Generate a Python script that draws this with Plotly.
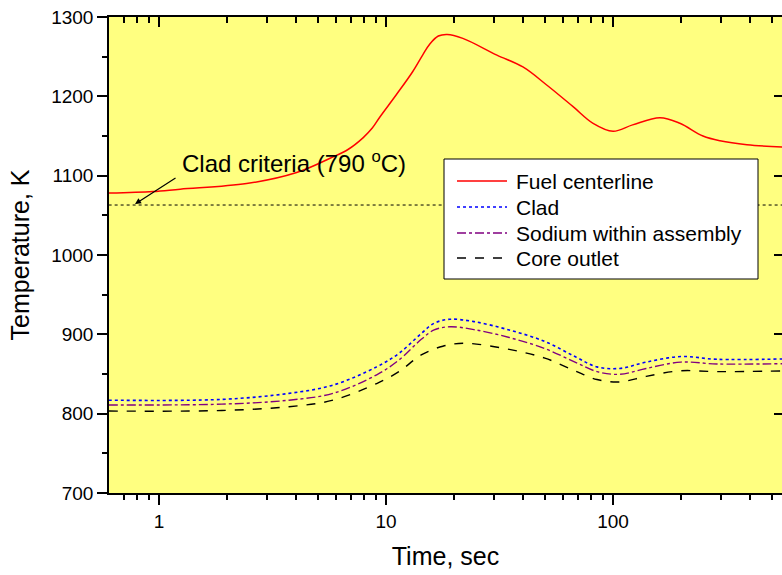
import numpy as np
import plotly.graph_objects as go

# ---- data ----
t_fuel = [0.6, 0.94, 1.24, 2.43, 4.04, 5.67, 6.8, 7.94, 8.7, 9.4, 11.1, 13.1, 14.5, 15.6, 17.0,
          18.6, 21.8, 30.8, 40.1, 51.2, 66.7, 81.7, 100, 122, 161, 197, 249, 296, 389, 560]
fuel = [1078, 1080, 1083, 1090, 1104, 1122, 1133, 1148, 1160, 1174, 1202, 1231, 1252, 1266, 1276,
        1278, 1273, 1252, 1237, 1214, 1187, 1166, 1156, 1164, 1173, 1166, 1150, 1144, 1139, 1136]

t_clad = [0.6, 1.89, 3.74, 5.84, 9.1, 11.4, 14.3, 16.3, 19.1, 24.4, 34.9, 50.1, 68, 85,
          107, 140, 199, 287, 560]
clad = [817, 818, 825.6, 836, 859, 876, 901, 914, 919, 916, 905.5, 891, 872, 859,
        857, 865, 872, 868.5, 869]
sodium = [811, 812, 817, 825.6, 849, 867.6, 893.7, 905.5, 909.6, 906, 896, 882, 865, 853,
          849.6, 857, 865, 862.6, 863]

t_core = [0.6, 1.89, 3.74, 5.84, 9.1, 11.4, 14.3, 17.8, 22.3, 34.9, 50.1, 68, 85, 107,
          140, 197, 287, 560]
core = [803.3, 804, 808.8, 817, 838, 853, 874, 885, 888.7, 881, 870, 854, 843, 840,
        847, 854, 853, 853.8]

t_crit = [0.6, 560]
crit = [1063, 1063]

x_major = [1, 10, 100]
x_major_text = ["1", "10", "100"]
x_minor = [0.7, 0.8, 0.9, 2, 3, 4, 5, 6, 7, 8, 9, 20, 30, 40, 50, 60, 70, 80, 90,
           200, 300, 400, 500]

series_names = ["Fuel centerline", "Clad", "Sodium within assembly", "Core outlet"]
series_colors = ["#FF0000", "#0000FF", "#800080", "#000000"]
series_dash = ["solid", "dot", "dashdot", "dash"]
series_width = [1.5, 1.6, 1.4, 1.4]

FONT = "Liberation Sans, Arial, sans-serif"
xr = [-0.2203, 2.7445]
yr = [700, 1300]

fig = go.Figure()
series_x = [t_fuel, t_clad, t_clad, t_core]
series_y = [fuel, clad, sodium, core]
for xs, ys, nm, c, d, w in zip(series_x, series_y, series_names, series_colors,
                                series_dash, series_width):
    fig.add_trace(go.Scatter(x=xs, y=ys, name=nm, mode="lines", showlegend=False,
                             line=dict(color=c, width=w, dash=d, shape="spline", smoothing=1.0)))

fig.add_trace(go.Scatter(x=t_crit, y=crit, mode="lines", showlegend=False, hoverinfo="skip",
                         xaxis="x2", yaxis="y2",
                         line=dict(color="#000000", width=1, dash="dot")))
# invisible helpers so the minor-tick axes are drawn
fig.add_trace(go.Scatter(x=t_crit, y=crit, mode="lines", showlegend=False, hoverinfo="skip",
                         xaxis="x3", yaxis="y", line=dict(width=0), opacity=0))
fig.add_trace(go.Scatter(x=t_crit, y=crit, mode="lines", showlegend=False, hoverinfo="skip",
                         xaxis="x4", yaxis="y2", line=dict(width=0), opacity=0))

axis_common = dict(showgrid=False, zeroline=False, linecolor="black", tickcolor="black",
                   tickwidth=1.5)

fig.update_layout(
    width=782, height=575,
    margin=dict(l=109, r=0, t=17, b=82),
    paper_bgcolor="white", plot_bgcolor="#FFFF80",
    font=dict(family=FONT, color="black", size=19),
    xaxis=dict(type="log", range=xr, showline=True, linewidth=1.5, ticks="outside", ticklen=10,
               tickmode="array", tickvals=x_major, ticktext=x_major_text,
               tickfont=dict(size=19),
               title=dict(text="Time, sec", font=dict(size=25), standoff=17),
               **axis_common),
    xaxis2=dict(type="log", range=xr, overlaying="x", side="top", anchor="y2", showline=True,
                linewidth=1.5, ticks="inside", ticklen=10, tickmode="array", tickvals=x_major,
                showticklabels=False, **axis_common),
    xaxis3=dict(type="log", range=xr, overlaying="x", side="bottom", anchor="y", showline=False,
                ticks="outside", ticklen=6, tickmode="array", tickvals=x_minor,
                showticklabels=False, **axis_common),
    xaxis4=dict(type="log", range=xr, overlaying="x", side="top", anchor="y2", showline=False,
                ticks="inside", ticklen=6, tickmode="array", tickvals=x_minor,
                showticklabels=False, **axis_common),
    yaxis=dict(range=yr, showline=True, linewidth=1.5, ticks="outside", ticklen=10,
               tick0=700, dtick=100, tickfont=dict(size=19),
               minor=dict(ticks="outside", ticklen=5, tickwidth=1.5, tickcolor="black",
                          dtick=50, tick0=700, showgrid=False),
               title=dict(text="Temperature, K", font=dict(size=25), standoff=14),
               **axis_common),
    yaxis2=dict(range=yr, overlaying="y", side="right", anchor="x2", showline=False,
                ticks="inside", ticklen=8, tick0=700, dtick=100, showticklabels=False,
                **axis_common),
    showlegend=False,
)

fig.add_annotation(x=np.log10(1.24), y=1117, xref="x", yref="y",
                   text="Clad criteria (790 <sup>o</sup>C)", showarrow=False,
                   xanchor="left", yanchor="middle", font=dict(size=24, family=FONT))
fig.add_annotation(x=-0.1057, y=1064.3, xref="x", yref="y", text="", showarrow=True,
                   ax=42, ay=-27, arrowhead=2, arrowsize=1, arrowwidth=1.2,
                   arrowcolor="black", standoff=0)

# ---- legend box (drawn in paper coordinates) ----
L, R, T, B = 109, 782, 17, 493
px = lambda v: (v - L) / (R - L)
py = lambda v: (B - v) / (B - T)
fig.add_shape(type="rect", xref="paper", yref="paper", layer="above",
              x0=px(444), x1=px(758), y0=py(279), y1=py(159),
              fillcolor="white", line=dict(color="black", width=1))
rows = [181, 207, 233, 258]
for r, nm, c, d, w in zip(rows, series_names, series_colors, series_dash, series_width):
    fig.add_shape(type="line", xref="paper", yref="paper", layer="above",
                  x0=px(457), x1=px(507), y0=py(r), y1=py(r),
                  line=dict(color=c, width=w, dash=d))
    fig.add_annotation(x=px(514), y=py(r), xref="paper", yref="paper", text=nm,
                       showarrow=False, xanchor="left", yanchor="middle",
                       font=dict(size=21, family=FONT))

fig.write_html("out.html")
